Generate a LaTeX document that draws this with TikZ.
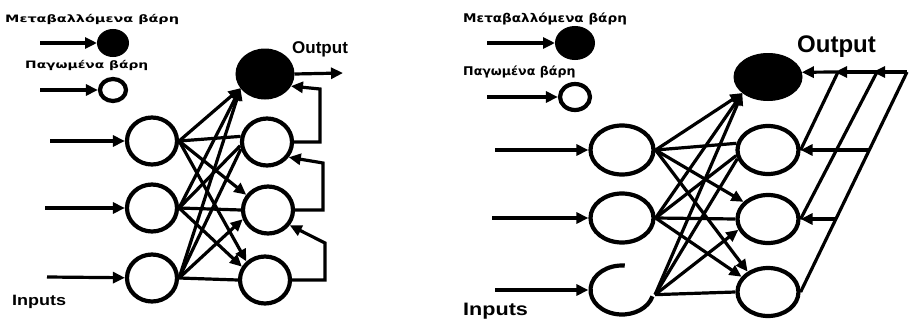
\documentclass[tikz,border=0pt]{standalone}
\usepackage{fontspec}
\setmainfont{Liberation Sans}
\newfontfamily\greekfont{DejaVu Sans}
\usetikzlibrary{arrows.meta,shapes.geometric}

\tikzset{
  ring/.style={ellipse, draw, line width=4.2pt, inner sep=0pt},
  blob/.style={ellipse, fill, draw, line width=1pt, inner sep=0pt},
  wire/.style={line width=3.2pt},
  arr/.style={wire, -{Triangle[length=12pt,width=11pt]}},
  lbl/.style={inner sep=0pt, anchor=base west},
  legtext/.style={lbl, font=\greekfont\bfseries\fontsize{12}{14}\selectfont},
}

\begin{document}
\begin{tikzpicture}[x=1pt,y=1pt]
\useasboundingbox (0,0) rectangle (910,325);

% ================= left network =================
% legend
\node[legtext] (lt1) at (5,303) {\scalebox{1.2}[0.85]{Μεταβαλλόμενα βάρη}};
\node[blob, minimum width=31pt, minimum height=27pt] (lf) at (113,282) {};
\coordinate (lfin) at (40,282);
\draw[arr] (lfin) -- (lf);
\node[legtext] (lt2) at (25,257) {\scalebox{1.15}[0.85]{Παγωμένα βάρη}};
\node[ring, minimum width=26pt, minimum height=22pt] (lo) at (113,235) {};
\coordinate (loin) at (40,235);
\draw[arr] (loin) -- (lo);

% neurons
\tikzset{hidL/.style={ring, minimum width=50pt, minimum height=47pt}}
\node[hidL] (a1) at (152,184) {};
\node[hidL] (a2) at (152,117) {};
\node[hidL] (a3) at (152,47) {};
\node[hidL] (b1) at (267,183) {};
\node[hidL] (b2) at (268,115) {};
\node[hidL] (b3) at (265,45) {};
\node[blob, minimum width=58pt, minimum height=50pt] (oL) at (265,251) {};

\node[lbl, font=\bfseries\fontsize{17}{20}\selectfont] (outtxtL) at (292,272) {Output};
\node[lbl, font=\bfseries\fontsize{15}{18}\selectfont] (intxtL) at (12,20) {\scalebox{1.2}[1]{Inputs}};

% inputs
\coordinate (i1L) at (50,184);
\coordinate (i2L) at (45,117);
\coordinate (i3L) at (47,48);
\draw[arr] (i1L) -- (a1);
\draw[arr] (i2L) -- (a2);
\draw[arr] (i3L) -- (a3);

% hidden to hidden
\draw[wire] (a1.east) -- (b1.168);
\draw[arr]  (a1.east) -- (b2.145);
\draw[arr]  (a1.east) -- (b3.135);
\draw[wire] (a2.east) -- (b1.188);
\draw[wire] (a2.east) -- (b2.west);
\draw[arr]  (a2.east) -- (b3.150);
\draw[wire] (a3.east) -- (b1.195);
\draw[arr]  (a3.east) -- (b2.200);
\draw[wire] (a3.east) -- (b3.west);
% hidden to output
\draw[arr] (a1.east) -- (oL.210);
\draw[arr] (a2.east) -- (oL.210);
\draw[arr] (a3.east) -- (oL.210);

% output
\coordinate (oLend) at (343,252);
\draw[arr] (oL.east) -- (oLend);

% feedback loops
\coordinate (f1a) at (320,183);
\coordinate (f1b) at (320,236);
\draw[arr] (b1.east) -- (f1a) -- (f1b) -- (oL.-25);
\coordinate (f2a) at (323,115);
\coordinate (f2b) at (323,162);
\draw[arr] (b2.east) -- (f2a) -- (f2b) -- (b1.-35);
\coordinate (f3a) at (325,45);
\coordinate (f3b) at (325,82);
\draw[arr] (b3.east) -- (f3a) -- (f3b) -- (b2.-35);

% ================= right network =================
% legend
\node[legtext] (rt1) at (463,303) {\scalebox{1.13}[1]{Μεταβαλλόμενα βάρη}};
\node[blob, minimum width=39pt, minimum height=33pt] (rf) at (575,282) {};
\coordinate (rfin) at (487,282);
\draw[arr] (rfin) -- (rf);
\node[legtext] (rt2) at (463,250) {\scalebox{1.05}[1]{Παγωμένα βάρη}};
\node[ring, minimum width=30pt, minimum height=26pt] (ro) at (575,228) {};
\coordinate (roin) at (487,228);
\draw[arr] (roin) -- (ro);

% neurons
\tikzset{hidR/.style={ring, minimum width=63pt, minimum height=49pt}}
\node[hidR] (c1) at (622,175) {};
\node[hidR] (c2) at (622,107) {};
\node[hidR, draw=none] (c3) at (622,35) {};
\draw[line width=4.2pt] (c3.center) ++(85:31.5 and 24.5)
  arc[start angle=85, end angle=345, x radius=31.5, y radius=24.5];
\tikzset{outR/.style={ring, minimum width=61pt, minimum height=48pt}}
\node[outR] (d1) at (768,175) {};
\node[outR] (d2) at (768,106) {};
\node[outR] (d3) at (768,33) {};
\node[blob, minimum width=68pt, minimum height=47pt] (oR) at (768,248) {};

\node[lbl, font=\bfseries\fontsize{24}{28}\selectfont] (outtxtR) at (797,273) {Output};
\node[lbl, font=\bfseries\fontsize{18}{21}\selectfont] (intxtR) at (463,10) {\scalebox{1.2}[1]{Inputs}};

% inputs
\coordinate (i1R) at (495,175);
\coordinate (i2R) at (492,107);
\coordinate (i3R) at (495,35);
\draw[arr] (i1R) -- (c1);
\draw[arr] (i2R) -- (c2);
\draw[arr] (i3R) -- (c3.west);

% hidden to hidden
\draw[wire] (c1.east) -- (d1.168);
\draw[arr]  (c1.east) -- (d2.145);
\draw[arr]  (c1.east) -- (d3.135);
\draw[wire] (c2.east) -- (d1.190);
\draw[wire] (c2.east) -- (d2.west);
\draw[arr]  (c2.east) -- (d3.150);
\draw[wire] (c3.-8) -- (d1.196);
\draw[arr]  (c3.-8) -- (d2.200);
\draw[wire] (c3.-8) -- (d3.west);
% hidden to output
\draw[arr] (c1.east) -- (oR.212);
\draw[arr] (c2.east) -- (oR.212);
\draw[arr] (c3.-8) -- (oR.212);

% feedback rails
\coordinate (jA) at (838,253);
\coordinate (jB) at (877,253);
\coordinate (jC) at (907,253);
\coordinate (t1) at (869,175);
\coordinate (t2) at (836,106);
\draw[wire] (d1.east) -- (jA);
\draw[wire] (d2.east) -- (jB);
\draw[wire] (d3.east) -- (jC);
\draw[arr] (jA) -- (oR.8);
\draw[arr, shorten >=-3pt] (jB) -- (jA);
\draw[arr, shorten >=-4pt] (jC) -- (jB);
\draw[arr] (t1) -- (d1.east);
\draw[arr] (t2) -- (d2.east);
\end{tikzpicture}
\end{document}
